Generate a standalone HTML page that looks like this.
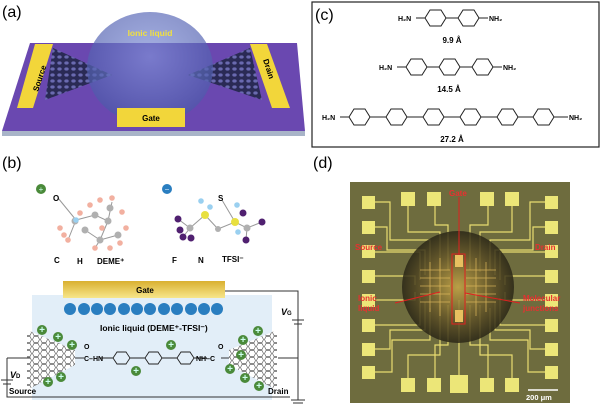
<!DOCTYPE html>
<html><head><meta charset="utf-8"><style>
html,body{margin:0;padding:0;background:#fff;}
svg{display:block;font-family:"Liberation Sans",Arial,sans-serif;}
</style></head><body>
<svg width="600" height="407" viewBox="0 0 600 407" xmlns="http://www.w3.org/2000/svg">
<defs>
<pattern id="hex" width="7" height="6" patternUnits="userSpaceOnUse">
<rect width="7" height="6" fill="#2a2a55"/><ellipse cx="3.5" cy="3" rx="2.2" ry="1.6" fill="#6a6ab0"/></pattern>
<radialGradient id="dome" cx="0.5" cy="0.4" r="0.6">
<stop offset="0" stop-color="#8090d8"/><stop offset="1" stop-color="#4a58a8"/></radialGradient>
<linearGradient id="gold" x1="0" y1="0" x2="0" y2="1"><stop offset="0" stop-color="#d9b030"/><stop offset="1" stop-color="#f7e68a"/></linearGradient>
<radialGradient id="ddome" cx="0.5" cy="0.5" r="0.5">
<stop offset="0" stop-color="#c8a848"/><stop offset="0.55" stop-color="#6a5a2a"/><stop offset="1" stop-color="#2a2616"/></radialGradient>
<pattern id="hexw" width="8" height="7" patternUnits="userSpaceOnUse">
<rect width="8" height="7" fill="#fff"/><polygon points="2,0.5 6,0.5 7.5,3.5 6,6.5 2,6.5 0.5,3.5" fill="none" stroke="#666" stroke-width="0.7"/></pattern>
</defs>

<!-- (a) -->
<text x="2" y="17" font-size="16">(a)</text>
<polygon points="2,136 305,136 305,131 2,131" fill="#a8b4c8"/>
<polygon points="30,43 297,43 305,131 2,131" fill="#6a48b0"/>
<polygon points="35,44 53,44 33,108 17,108" fill="#f2d63a"/>
<polygon points="250,44 267,44 290,108 272,108" fill="#f2d63a"/>
<polygon points="53,48 112,75 45,100" fill="url(#hex)"/>
<polygon points="250,48 188,75 262,100" fill="url(#hex)"/>
<ellipse cx="150" cy="68" rx="63" ry="56" fill="url(#dome)" opacity="0.7"/>
<text x="150" y="36" font-size="8.5" font-weight="bold" fill="#f0e040" text-anchor="middle">Ionic liquid</text>
<rect x="117" y="108" width="68" height="19" fill="#f2d63a"/>
<text x="151" y="121" font-size="8" font-weight="bold" text-anchor="middle">Gate</text>
<text transform="translate(38,92) rotate(-72)" font-size="8" font-weight="bold">Source</text>
<text transform="translate(263,60) rotate(72)" font-size="8" font-weight="bold">Drain</text>

<!-- (c) -->
<rect x="312" y="2" width="287" height="145" fill="#fff" stroke="#222" stroke-width="1.2"/>
<text x="315" y="20" font-size="16">(c)</text>
<g stroke="#222" stroke-width="1" fill="none">
<line x1="416" y1="18" x2="425" y2="18"/><line x1="446" y1="18" x2="458" y2="18"/><line x1="479" y1="18" x2="488" y2="18"/>
<polygon points="425,18 430,10 441,10 446,18 441,26 430,26"/><polygon points="458,18 463,10 474,10 479,18 474,26 463,26"/>
<line x1="397" y1="67" x2="406" y2="67"/><line x1="427" y1="67" x2="439" y2="67"/><line x1="460" y1="67" x2="472" y2="67"/><line x1="493" y1="67" x2="502" y2="67"/>
<polygon points="406,67 411,59 422,59 427,67 422,75 411,75"/><polygon points="439,67 444,59 455,59 460,67 455,75 444,75"/><polygon points="472,67 477,59 488,59 493,67 488,75 477,75"/>
<line x1="340" y1="117" x2="349" y2="117"/><line x1="554" y1="117" x2="568" y2="117"/>
<polygon points="349,117 354,109 365,109 370,117 365,125 354,125"/>
<polygon points="386,117 391,109 402,109 407,117 402,125 391,125"/>
<polygon points="423,117 428,109 439,109 444,117 439,125 428,125"/>
<polygon points="460,117 465,109 476,109 481,117 476,125 465,125"/>
<polygon points="497,117 502,109 513,109 518,117 513,125 502,125"/>
<polygon points="533,117 538,109 549,109 554,117 549,125 538,125"/>
<path d="M370,117H386M407,117H423M444,117H460M481,117H497M518,117H533"/>
</g>
<g font-size="7" font-weight="bold">
<text x="398" y="21">H₂N</text><text x="489" y="21">NH₂</text>
<text x="379" y="70">H₂N</text><text x="503" y="70">NH₂</text>
<text x="322" y="120">H₂N</text><text x="569" y="120">NH₂</text>
</g>
<g font-size="8" font-weight="bold" text-anchor="middle">
<text x="452" y="43">9.9 Å</text><text x="449" y="92">14.5 Å</text><text x="452" y="142">27.2 Å</text></g>

<!-- (b) -->
<text x="2" y="168" font-size="16">(b)</text>
<circle cx="41" cy="189" r="5" fill="#4a8a3a"/><text x="41" y="192" font-size="8" fill="#cfe" text-anchor="middle">+</text>
<circle cx="167" cy="189" r="5" fill="#2a7ec0"/><text x="167" y="192" font-size="8" fill="#def" text-anchor="middle">−</text>
<g stroke="#999" stroke-width="1" fill="none"><path d="M58,198L76,220L95,215L108,221L100,240L118,235M85,230L100,240M76,220L68,240M95,248L100,240M108,221L112,202"/>
<path d="M178,219L190,228L205,215L218,229L235,222L247,228L262,222M183,237L190,228M246,240L247,228M222,200L235,222"/></g>
<g fill="#b0b0b0"><circle cx="75" cy="221" r="3.5"/><circle cx="95" cy="215" r="3.5"/><circle cx="108" cy="221" r="3.5"/><circle cx="100" cy="240" r="3.5"/><circle cx="118" cy="235" r="3.5"/><circle cx="85" cy="230" r="3.5"/><circle cx="110" cy="208" r="3.5"/></g>
<g fill="#f2b0a0"><circle cx="60" cy="228" r="2.8"/><circle cx="68" cy="240" r="2.8"/><circle cx="90" cy="205" r="2.8"/><circle cx="112" cy="198" r="2.8"/><circle cx="122" cy="212" r="2.8"/><circle cx="126" cy="228" r="2.8"/><circle cx="95" cy="248" r="2.8"/><circle cx="110" cy="248" r="2.8"/><circle cx="80" cy="213" r="2.8"/><circle cx="102" cy="228" r="2.8"/><circle cx="64" cy="235" r="2.8"/><circle cx="120" cy="243" r="2.8"/><circle cx="100" cy="200" r="2.8"/></g>
<circle cx="76" cy="220" r="2.8" fill="#9ad0f0"/>
<g fill="#502070"><circle cx="178" cy="219" r="3.5"/><circle cx="183" cy="237" r="3.5"/><circle cx="191" cy="238" r="3.5"/><circle cx="243" cy="213" r="3.5"/><circle cx="262" cy="222" r="3.5"/><circle cx="246" cy="240" r="3.5"/><circle cx="180" cy="230" r="3.5"/></g>
<g fill="#e8e040"><circle cx="205" cy="215" r="4"/><circle cx="235" cy="222" r="4"/></g>
<g fill="#9ad0f0"><circle cx="201" cy="201" r="2.8"/><circle cx="210" cy="207" r="2.8"/><circle cx="237" cy="205" r="2.8"/><circle cx="238" cy="232" r="2.8"/></g>
<g fill="#b0b0b0"><circle cx="190" cy="228" r="3.5"/><circle cx="218" cy="229" r="3"/><circle cx="247" cy="228" r="3.5"/></g>
<g font-size="8" font-weight="bold">
<text x="53" y="201">O</text><text x="54" y="263">C</text><text x="77" y="264">H</text><text x="97" y="264">DEME⁺</text>
<text x="172" y="263">F</text><text x="198" y="263">N</text><text x="218" y="201">S</text><text x="222" y="262">TFSI⁻</text></g>

<rect x="32" y="295" width="240" height="105" fill="#e2eef8"/>
<rect x="63" y="281" width="162" height="17" fill="url(#gold)"/>
<text x="145" y="293" font-size="8" font-weight="bold" text-anchor="middle">Gate</text>
<g fill="#2a7ec0">
<circle cx="70" cy="309" r="6"/><circle cx="84" cy="309" r="6"/><circle cx="97" cy="309" r="6"/><circle cx="110" cy="309" r="6"/><circle cx="124" cy="309" r="6"/><circle cx="137" cy="309" r="6"/><circle cx="150" cy="309" r="6"/><circle cx="164" cy="309" r="6"/><circle cx="177" cy="309" r="6"/><circle cx="191" cy="309" r="6"/><circle cx="204" cy="309" r="6"/><circle cx="217" cy="309" r="6"/></g>
<text x="100" y="331" font-size="8.5" font-weight="bold">Ionic liquid (DEME⁺-TFSI⁻)</text>
<polygon points="27,330 75,350 75,365 27,390" fill="url(#hexw)"/>
<polygon points="277,330 229,350 229,365 277,390" fill="url(#hexw)"/>
<path d="M7,358H30M298,358H278M225,291H298V400M7,358V397H290M1,380h12M3,384h8M291,400h14M293,403h10" stroke="#333" fill="none" stroke-width="1"/>
<g stroke="#222" fill="none" stroke-width="0.9">
<line x1="75" y1="358" x2="84" y2="358"/><line x1="221" y1="358" x2="229" y2="358"/>
<polygon points="113,358 117,352 126,352 130,358 126,364 117,364"/><polygon points="145,358 149,352 158,352 162,358 158,364 149,364"/><polygon points="177,358 181,352 190,352 194,358 190,364 181,364"/>
<path d="M100,358H113M130,358H145M162,358H177M194,358H207"/></g>
<g font-size="7" font-weight="bold"><text x="84" y="361">C–HN</text><text x="196" y="361">NH–C</text><text x="84" y="349">O</text><text x="218" y="349">O</text></g>
<g fill="#4a8a3a">
<circle cx="42" cy="330" r="5"/><circle cx="58" cy="337" r="5"/><circle cx="72" cy="345" r="5"/><circle cx="48" cy="382" r="5"/><circle cx="61" cy="377" r="5"/><circle cx="136" cy="371" r="5"/><circle cx="171" cy="345" r="5"/><circle cx="258" cy="331" r="5"/><circle cx="243" cy="340" r="5"/><circle cx="241" cy="355" r="5"/><circle cx="230" cy="369" r="5"/><circle cx="245" cy="378" r="5"/><circle cx="259" cy="386" r="5"/></g>
<g font-size="10" font-weight="bold" fill="#cfe" text-anchor="middle">
<text x="42" y="333">+</text><text x="58" y="340">+</text><text x="72" y="348">+</text><text x="48" y="385">+</text><text x="61" y="380">+</text><text x="136" y="374">+</text><text x="171" y="348">+</text><text x="258" y="334">+</text><text x="243" y="343">+</text><text x="241" y="358">+</text><text x="230" y="372">+</text><text x="245" y="381">+</text><text x="259" y="389">+</text></g>
<path d="M292,320h12M294,324h8" stroke="#333"/>
<text x="281" y="315" font-size="9" font-style="italic" font-weight="bold">V<tspan font-size="6" font-style="normal">G</tspan></text>
<text x="10" y="378" font-size="9" font-style="italic" font-weight="bold">V<tspan font-size="6" font-style="normal">D</tspan></text>
<text x="9" y="394" font-size="8" font-weight="bold">Source</text>
<text x="268" y="394" font-size="8" font-weight="bold">Drain</text>

<!-- (d) -->
<text x="313" y="168" font-size="16">(d)</text>
<rect x="350" y="182" width="220" height="221" fill="#6e6c3e"/>
<g stroke="#e8dc70" stroke-width="1.2" fill="none">
<path d="M375,202H390V240H430V270M375,227H387V250H425V275M375,252H420V280M375,276H415V285M375,300H415V292M375,325H420V298M375,349H390V330H425V302M375,372H392V340H430V308"/>
<path d="M545,202H530V240H490V270M545,227H533V250H495V275M545,252H500V280M545,276H505V285M545,300H505V292M545,325H500V298M545,349H530V330H495V302M545,372H528V340H490V308"/>
<path d="M408,205V232H440V272M435,205V225H448V270M488,205V225H470V270M512,205V232H480V272"/>
<path d="M408,378V355H440V305M435,378V345H448V305M459,378V300M488,378V345H470V305M512,378V355H480V305"/>
</g>
<g fill="#ece678">
<rect x="362" y="196" width="13" height="13"/><rect x="362" y="221" width="13" height="13"/><rect x="362" y="245" width="13" height="13"/><rect x="362" y="270" width="13" height="13"/><rect x="362" y="294" width="13" height="13"/><rect x="362" y="319" width="13" height="13"/><rect x="362" y="343" width="13" height="13"/><rect x="362" y="366" width="13" height="13"/>
<rect x="545" y="196" width="13" height="13"/><rect x="545" y="221" width="13" height="13"/><rect x="545" y="245" width="13" height="13"/><rect x="545" y="270" width="13" height="13"/><rect x="545" y="294" width="13" height="13"/><rect x="545" y="319" width="13" height="13"/><rect x="545" y="343" width="13" height="13"/><rect x="545" y="366" width="13" height="13"/>
<rect x="401" y="192" width="14" height="14"/><rect x="427" y="192" width="14" height="14"/><rect x="480" y="192" width="14" height="14"/><rect x="505" y="192" width="14" height="14"/>
<rect x="401" y="378" width="14" height="14"/><rect x="427" y="378" width="14" height="14"/><rect x="450" y="375" width="18" height="18"/><rect x="480" y="378" width="14" height="14"/><rect x="505" y="378" width="14" height="14"/>
</g>
<circle cx="458" cy="287" r="56" fill="url(#ddome)" opacity="0.85"/>
<g stroke="#e8c060" stroke-width="0.8" opacity="0.8" fill="none">
<path d="M420,270H450M420,278H450M420,286H450M420,294H450M420,302H450M466,270H496M466,278H496M466,286H496M466,294H496M466,302H496M430,262V312M440,258V316M476,258V316M486,262V312"/></g>
<rect x="455" y="255" width="8" height="12" fill="#e8c060"/><rect x="455" y="310" width="8" height="12" fill="#e8c060"/>
<g stroke="#e02020" stroke-width="1" fill="none">
<line x1="459" y1="197" x2="459" y2="255"/><rect x="452" y="254" width="13" height="70"/>
<line x1="395" y1="303" x2="440" y2="292"/><line x1="465" y1="293" x2="520" y2="303"/></g>
<g font-size="8" font-weight="bold" fill="#e83030">
<text x="449" y="196">Gate</text><text x="355" y="250">Source</text><text x="535" y="250">Drain</text>
<text x="358" y="301">Ionic</text><text x="358" y="311">liquid</text>
<text x="523" y="301">Molecular</text><text x="523" y="311">junctions</text></g>
<line x1="528" y1="390" x2="558" y2="390" stroke="#fff" stroke-width="1.5"/>
<text x="526" y="400" font-size="7.5" font-weight="bold" fill="#fff">200 μm</text>
</svg>
</body></html>
